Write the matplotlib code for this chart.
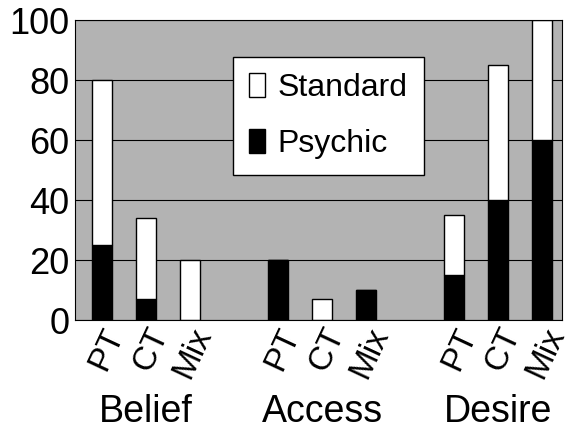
import numpy as np
import matplotlib.pyplot as plt

plt.rcParams['font.family'] = ['Liberation Sans', 'DejaVu Sans']

conditions = ['PT', 'CT', 'Mix'] * 3
groups = ['Belief', 'Access', 'Desire']
psychic = [25, 7, 0, 20, 0, 10, 15, 40, 60]
standard = [55, 27, 20, 0, 7, 0, 20, 45, 40]
positions = [0, 1, 2, 4, 5, 6, 8, 9, 10]

fig = plt.figure(figsize=(5.69, 4.37), dpi=100)
ax = fig.add_axes([75 / 569, 1 - 320 / 437, 487 / 569, 300 / 437])
ax.set_facecolor('#b3b3b3')
ax.set_axisbelow(True)
ax.yaxis.grid(True, color='black', linewidth=0.8)

ax.bar(positions, psychic, width=0.45, color='black', edgecolor='black',
       linewidth=1, label='Psychic')
ax.bar(positions, standard, width=0.45, bottom=psychic, color='white',
       edgecolor='black', linewidth=1, label='Standard')

ax.set_ylim(0, 100)
ax.set_xlim(-0.61, 10.45)
ax.set_yticks(np.arange(0, 101, 20))
ax.tick_params(axis='y', labelsize=26, length=0, pad=4)
ax.set_xticks(positions)
ax.set_xticklabels(conditions, rotation=65, fontsize=24, ha='right',
                   va='top', rotation_mode='anchor')
ax.tick_params(axis='x', length=0, pad=2)
for s in ax.spines.values():
    s.set_color('black')

for i, g in enumerate(groups):
    fig.text((75 + (1 + 4 * i) * 44 + 27) / 569, 1 - 412 / 437, g,
             fontsize=27, ha='center', va='center')

handles, labels = ax.get_legend_handles_labels()
ax.legend(handles[::-1], labels[::-1], loc='upper center',
          bbox_to_anchor=(0.52, 0.93), fontsize=23, frameon=True,
          fancybox=False, edgecolor='black', framealpha=1,
          handlelength=0.5, handleheight=0.8, handletextpad=0.4,
          labelspacing=0.8, borderpad=0.5)

fig.savefig('out.png', dpi=100)
